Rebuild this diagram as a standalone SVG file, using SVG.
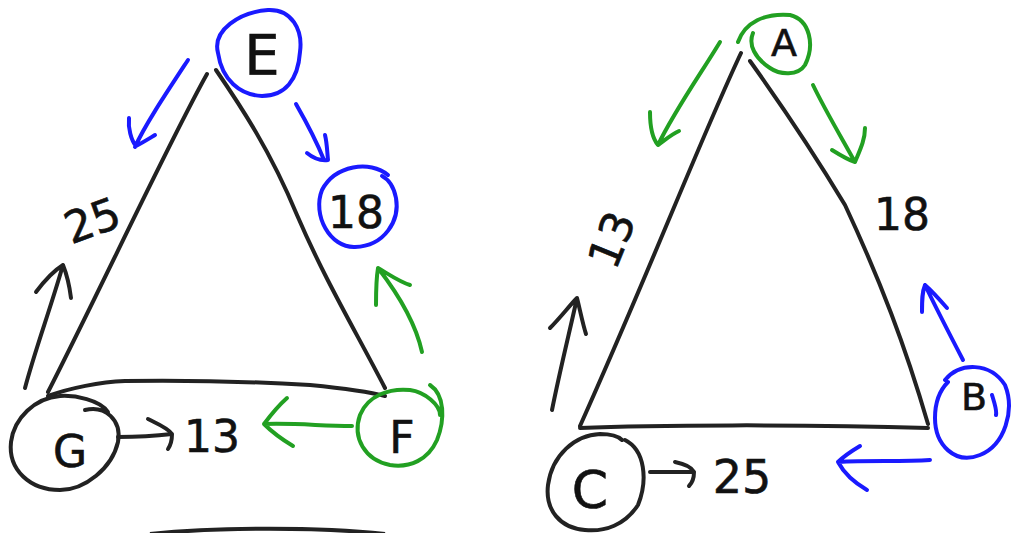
<svg xmlns="http://www.w3.org/2000/svg" width="1013" height="533" viewBox="0 0 1013 533">
<style>
.k{fill:none;stroke:#222;stroke-width:4;stroke-linecap:round;stroke-linejoin:round}
.b{fill:none;stroke:#1a1aff;stroke-width:4;stroke-linecap:round;stroke-linejoin:round}
.g{fill:none;stroke:#22a022;stroke-width:4;stroke-linecap:round;stroke-linejoin:round}
.t{font-family:"DejaVu Sans",sans-serif;font-weight:normal;fill:#111;stroke:#111;stroke-width:0.6}
</style>
<rect width="1013" height="533" fill="#fff"/>
<g id="connectors">
<!-- left triangle -->
<path class="k" d="M207,74 C170,140 100,290 48,392"/>
<path class="k" d="M216,70 C240,105 270,150 297,215 C325,280 355,330 385,388"/>
<path class="k" d="M48,396 C70,388 100,382 125,381 C200,380 260,382 310,385 C340,388 370,392 385,396"/>
<!-- right triangle -->
<path class="k" d="M741,53 C700,140 650,270 580,426"/>
<path class="k" d="M750,61 C785,110 815,155 845,205 C880,280 905,345 928,424"/>
<path class="k" d="M580,428 C650,425 800,424 928,428"/>
<!-- left annotations -->
<path class="b" d="M188,60 C165,95 145,125 135,147 M129,118 C128,128 131,140 136,146 C142,143 150,138 155,135"/>
<path class="b" d="M296,104 C308,125 318,145 324,160 M307,153 C313,158 320,161 328,160 C327,150 327,143 325,135"/>
<path class="g" d="M422,352 C415,320 395,290 378,268 M376,305 C376,290 376,280 378,268 C390,275 400,282 410,285"/>
<path class="k" d="M25,388 C35,350 50,310 63,265 M36,292 C45,280 55,270 63,265 C67,275 70,290 71,298"/>
<path class="g" d="M352,426 C320,426 300,423 264,424 M287,398 C278,406 270,416 264,424 C272,432 283,440 293,446"/>
<path class="k" d="M118,437 C140,437 155,436 172,434 M148,419 C158,424 168,428 172,434 C172,440 170,446 168,449"/>
<!-- right annotations -->
<path class="g" d="M720,42 C700,75 675,110 658,145 M650,112 C650,125 652,138 658,145 C665,140 672,134 679,131"/>
<path class="g" d="M813,85 C825,110 840,135 855,162 M832,150 C840,155 848,160 855,162 C860,150 865,140 865,128"/>
<path class="b" d="M963,360 C950,335 937,310 925,285 M922,312 C922,300 922,292 925,285 C933,292 940,300 947,308"/>
<path class="k" d="M552,410 C560,370 570,330 577,298 M550,328 C560,318 570,305 577,298 C580,310 583,325 586,334"/>
<path class="b" d="M930,460 C900,462 870,460 838,462 M860,446 C850,452 842,458 838,462 C845,475 855,483 867,490"/>
<path class="k" d="M650,472 C665,472 678,472 694,472 M675,462 C685,464 692,468 694,472 C694,478 692,483 689,486"/>
<!-- bottom faint line -->
<path d="M150,534 C220,527 320,527 385,534" fill="none" stroke="#222" stroke-width="4"/>
</g>
<g id="node-E">
<path class="b" d="M218,53 C212,30 240,12 268,10 C292,9 303,30 300,52 C298,80 285,96 262,96 C240,95 222,80 218,53"/>
<text class="t" x="262" y="74" font-size="56" text-anchor="middle">E</text>
</g>
<g id="node-18L">
<path class="b" d="M388,175 C370,160 335,165 322,190 C312,215 330,248 355,247 C385,246 400,220 396,198 C394,188 390,180 382,176"/>
<text class="t" x="356" y="228" font-size="44" text-anchor="middle">18</text>
</g>
<g id="node-F">
<path class="g" d="M430,385 C445,395 445,420 437,440 C428,460 410,468 390,465 C365,460 352,438 360,415 C368,395 390,388 410,390 C425,392 440,405 440,415"/>
<text class="t" x="402" y="453" font-size="44" text-anchor="middle">F</text>
</g>
<g id="node-G">
<path class="k" d="M85,410 C105,405 122,420 118,442 C112,468 85,490 60,490 C30,490 8,470 11,442 C14,418 35,398 60,396 C75,395 100,400 108,412"/>
<text class="t" x="70" y="467" font-size="44" text-anchor="middle">G</text>
</g>
<g id="label-25L">
<text class="t" x="92" y="236" font-size="44" text-anchor="middle" transform="rotate(-20 92 220)">25</text>
</g>
<g id="label-13L">
<text class="t" x="212" y="452" font-size="44" text-anchor="middle">13</text>
</g>
<g id="node-A">
<path class="g" d="M738,42 C745,22 765,13 790,15 C810,20 815,45 805,65 C798,76 780,75 770,68 C755,58 748,45 753,33"/>
<text class="t" x="784" y="56" font-size="38" text-anchor="middle">A</text>
</g>
<g id="label-13R">
<text class="t" x="612" y="255" font-size="44" text-anchor="middle" transform="rotate(-68 612 240)">13</text>
</g>
<g id="label-18R">
<text class="t" x="902" y="230" font-size="44" text-anchor="middle">18</text>
</g>
<g id="node-B">
<path class="b" d="M945,380 C960,362 990,362 1005,385 C1015,410 1005,445 980,455 C955,465 935,445 935,418 C935,400 940,390 948,382 M992,395 C995,405 997,410 996,415"/>
<text class="t" x="974" y="410" font-size="38" text-anchor="middle">B</text>
</g>
<g id="node-C">
<path class="k" d="M625,440 C645,450 648,480 638,505 C625,525 605,532 585,530 C560,528 545,510 548,485 C552,455 575,435 600,434 C610,434 618,436 622,440"/>
<text class="t" x="590" y="508" font-size="52" text-anchor="middle">C</text>
</g>
<g id="label-25R">
<text class="t" x="742" y="493" font-size="46" text-anchor="middle">25</text>
</g>
</svg>
